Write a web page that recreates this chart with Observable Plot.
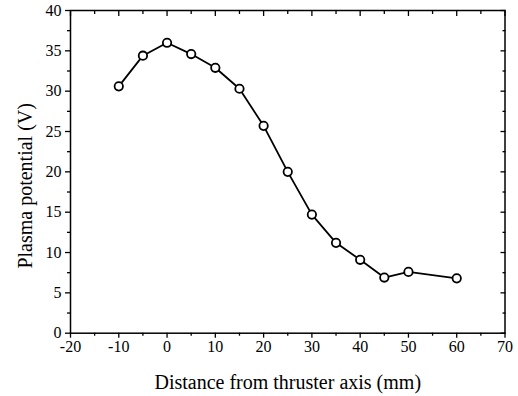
<!DOCTYPE html>
<html>
<head>
<meta charset="utf-8">
<script src="https://cdn.jsdelivr.net/npm/d3@7"></script>
<script src="https://cdn.jsdelivr.net/npm/@observablehq/plot@0.6"></script>
<style>
  html, body { margin: 0; padding: 0; background: #fff; }
</style>
</head>
<body>
<div id="chart"></div>
<script>
const distance = [-10, -5, 0, 5, 10, 15, 20, 25, 30, 35, 40, 45, 50, 60];
const potential = [30.6, 34.4, 36.0, 34.6, 32.9, 30.3, 25.7, 20.0, 14.7, 11.2, 9.1, 6.9, 7.6, 6.8];
const xMajor = [-20, -10, 0, 10, 20, 30, 40, 50, 60, 70];
const xMinor = [-15, -5, 5, 15, 25, 35, 45, 55, 65];
const yMajor = [0, 5, 10, 15, 20, 25, 30, 35, 40];
const yMinor = [2.5, 7.5, 12.5, 17.5, 22.5, 27.5, 32.5, 37.5];
const xTitle = "Distance from thruster axis (mm)";
const yTitle = "Plasma potential (V)";

const data = distance.map((d, i) => ({distance: d, potential: potential[i]}));
const blank = () => "";
const plain = d => String(d);

const chart = Plot.plot({
  width: 518,
  height: 396,
  marginLeft: 70,
  marginRight: 13.5,
  marginTop: 10,
  marginBottom: 63.3,
  x: {domain: [-20, 70]},
  y: {domain: [0, 40]},
  style: {fontFamily: "'Liberation Serif', 'Times New Roman', serif", fontSize: "16px", background: "#fff", color: "#000"},
  marks: [
    // bottom axis
    Plot.axisX({anchor: "bottom", ticks: xMajor, tickSize: 5, tickPadding: 2, tickFormat: plain, label: null, fontSize: 16, strokeWidth: 1.3}),
    Plot.axisX({anchor: "bottom", ticks: xMinor, tickSize: 3, tickFormat: blank, label: null, strokeWidth: 1.3}),
    // top axis (inward ticks)
    Plot.axisX({anchor: "top", ticks: xMajor, tickSize: -5, tickFormat: blank, label: null, strokeWidth: 1.3}),
    Plot.axisX({anchor: "top", ticks: xMinor, tickSize: -3, tickFormat: blank, label: null, strokeWidth: 1.3}),
    // left axis
    Plot.axisY({anchor: "left", ticks: yMajor, tickSize: 5, tickPadding: 4, tickFormat: plain, label: null, fontSize: 16, strokeWidth: 1.3}),
    Plot.axisY({anchor: "left", ticks: yMinor, tickSize: 3, tickFormat: blank, label: null, strokeWidth: 1.3}),
    // right axis (inward ticks)
    Plot.axisY({anchor: "right", ticks: yMajor, tickSize: -5, tickFormat: blank, label: null, strokeWidth: 1.3}),
    Plot.axisY({anchor: "right", ticks: yMinor, tickSize: -3, tickFormat: blank, label: null, strokeWidth: 1.3}),
    Plot.frame({stroke: "#000", strokeWidth: 1.5}),
    Plot.line(data, {x: "distance", y: "potential", stroke: "#000", strokeWidth: 1.8}),
    Plot.dot(data, {x: "distance", y: "potential", r: 4.2, stroke: "#000", strokeWidth: 1.8, fill: "#fff"}),
    Plot.text([xTitle], {frameAnchor: "bottom", dy: 49, fontSize: 20, text: d => d, textAnchor: "middle", lineAnchor: "middle", fill: "#000"}),
    Plot.text([yTitle], {frameAnchor: "left", dx: -45, dy: 14, rotate: -90, fontSize: 20, text: d => d, textAnchor: "middle", lineAnchor: "middle", fill: "#000"})
  ]
});
document.getElementById("chart").appendChild(chart);
</script>
</body>
</html>
